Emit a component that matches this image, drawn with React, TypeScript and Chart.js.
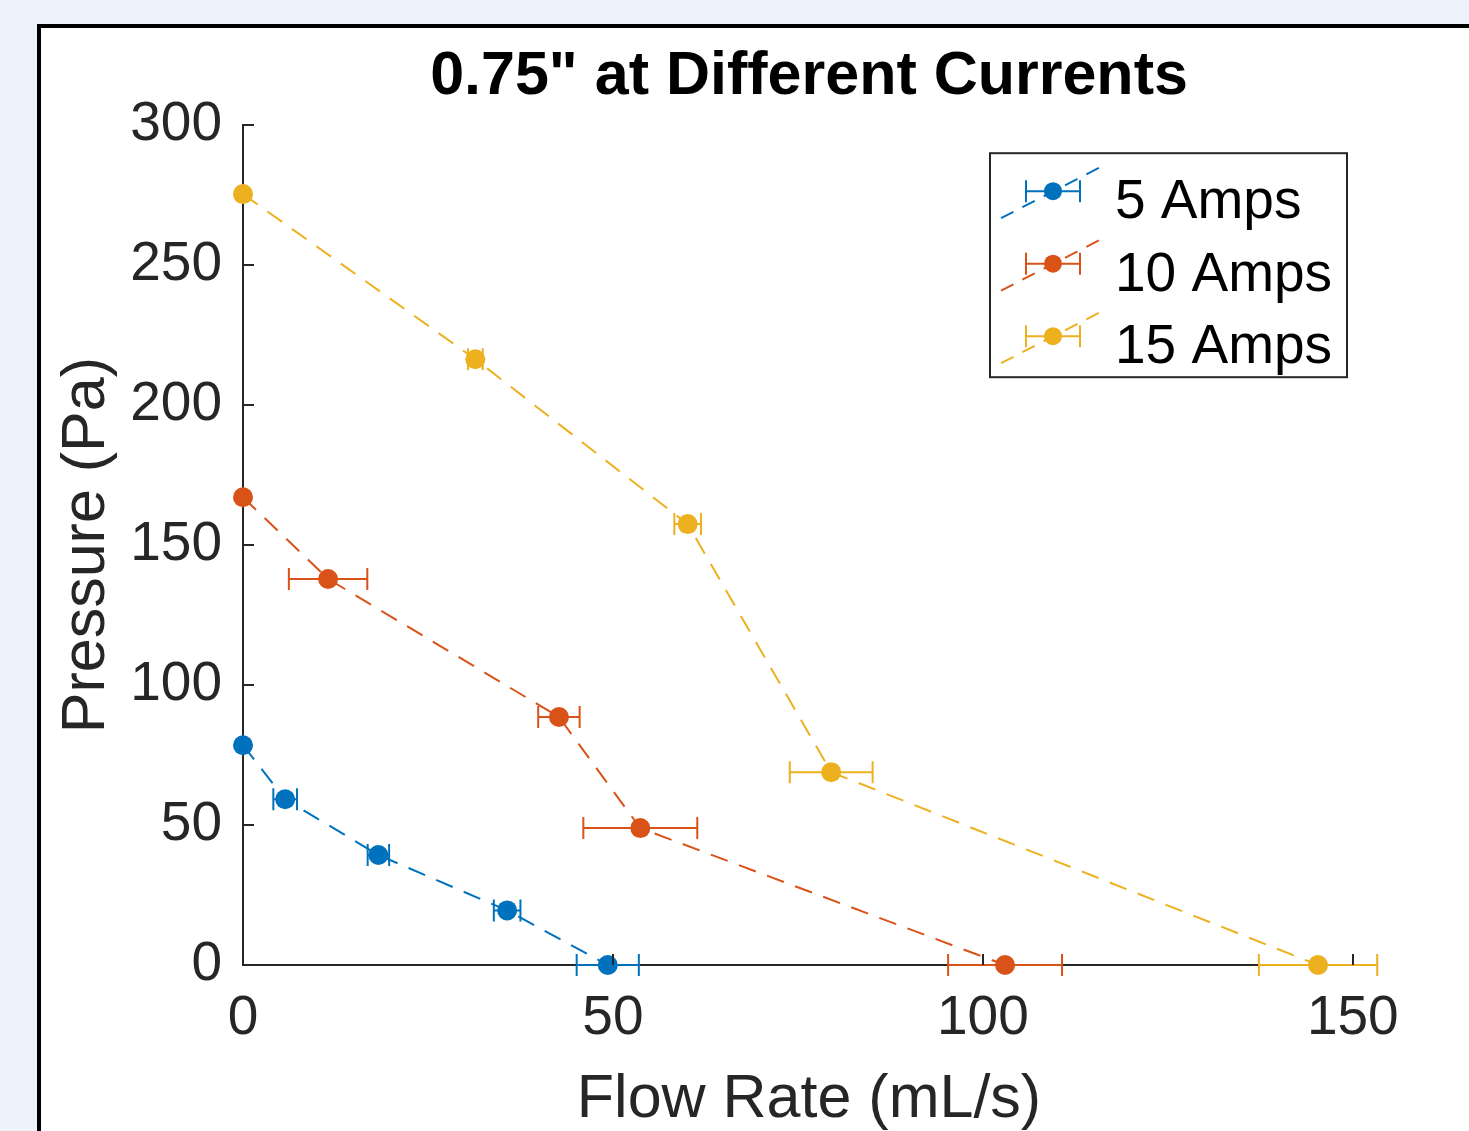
import React, { useEffect, useRef } from "react";
import { Chart, registerables } from "chart.js";

Chart.register(...registerables);

const FONT = '"Liberation Sans", Arial, Helvetica, sans-serif';

const chartTitle = '0.75" at Different Currents';
const xAxisLabel = "Flow Rate (mL/s)";
const yAxisLabel = "Pressure (Pa)";

const seriesLabels = ["5 Amps", "10 Amps", "15 Amps"];
const seriesColors = ["#0072BD", "#D95319", "#EDB120"];

const flow5 = [0, 5.7, 18.3, 35.7, 49.3];
const pressure5 = [78.5, 59.2, 39.3, 19.5, 0];
const flowErr5 = [0, 1.6, 1.45, 1.8, 4.2];

const flow10 = [0, 11.5, 42.7, 53.7, 103.0];
const pressure10 = [167.1, 137.9, 88.6, 48.9, 0];
const flowErr10 = [0, 5.3, 2.8, 7.7, 7.7];

const flow15 = [0, 31.4, 60.1, 79.5, 145.3];
const pressure15 = [275.4, 216.4, 157.5, 68.9, 0];
const flowErr15 = [0, 1.0, 1.8, 5.6, 8.0];

const xMin = 0;
const xMax = 153;
const xStep = 50;
const yMin = 0;
const yMax = 300;
const yStep = 50;

const flows = [flow5, flow10, flow15];
const pressures = [pressure5, pressure10, pressure15];
const flowErrs = [flowErr5, flowErr10, flowErr15];

const AXIS_COLOR = "#262626";

const errorBarPlugin = {
  id: "errorBars",
  beforeDatasetsDraw(chart: any) {
    const ctx = chart.ctx;
    const xs = chart.scales.x;
    const ys = chart.scales.y;
    ctx.save();
    chart.data.datasets.forEach((ds: any, di: number) => {
      const errs = flowErrs[di];
      ctx.strokeStyle = ds.borderColor;
      ctx.lineWidth = 2;
      ctx.setLineDash([]);
      ds.data.forEach((p: any, i: number) => {
        const e = errs[i];
        if (!e) return;
        const y = ys.getPixelForValue(p.y);
        const x1 = xs.getPixelForValue(p.x - e);
        const x2 = xs.getPixelForValue(p.x + e);
        const cap = 11;
        ctx.beginPath();
        ctx.moveTo(x1, y);
        ctx.lineTo(x2, y);
        ctx.moveTo(x1, y - cap);
        ctx.lineTo(x1, y + cap);
        ctx.moveTo(x2, y - cap);
        ctx.lineTo(x2, y + cap);
        ctx.stroke();
      });
    });
    ctx.restore();
  },
};

const inwardTicksPlugin = {
  id: "inwardTicks",
  afterDraw(chart: any) {
    const ctx = chart.ctx;
    const ca = chart.chartArea;
    const xs = chart.scales.x;
    const ys = chart.scales.y;
    const len = 11;
    ctx.save();
    ctx.strokeStyle = AXIS_COLOR;
    ctx.lineWidth = 2;
    ctx.beginPath();
    xs.ticks.forEach((t: any) => {
      const x = Math.round(xs.getPixelForValue(t.value));
      ctx.moveTo(x, ca.bottom);
      ctx.lineTo(x, ca.bottom - len);
    });
    ys.ticks.forEach((t: any) => {
      const y = Math.round(ys.getPixelForValue(t.value));
      ctx.moveTo(ca.left, y);
      ctx.lineTo(ca.left + len, y);
    });
    ctx.stroke();
    ctx.restore();
  },
};

const legendBoxPlugin = {
  id: "legendBox",
  afterDraw(chart: any) {
    const ctx = chart.ctx;
    const ca = chart.chartArea;
    const w = 357;
    const h = 224;
    const x0 = ca.right - 28 - w;
    const y0 = ca.top + 28;
    ctx.save();
    ctx.fillStyle = "#ffffff";
    ctx.fillRect(x0, y0, w, h);
    ctx.strokeStyle = AXIS_COLOR;
    ctx.lineWidth = 2;
    ctx.setLineDash([]);
    ctx.strokeRect(x0, y0, w, h);
    chart.data.datasets.forEach((ds: any, i: number) => {
      const rowY = y0 + 65 + i * 72.5;
      const mx = x0 + 63;
      const my = rowY - 27;
      // dashed diagonal line
      ctx.strokeStyle = ds.borderColor;
      ctx.lineWidth = 2;
      ctx.setLineDash([14, 10]);
      ctx.beginPath();
      ctx.moveTo(mx - 52, my + 27);
      ctx.lineTo(mx + 53, my - 27);
      ctx.stroke();
      // error bar
      ctx.setLineDash([]);
      ctx.beginPath();
      ctx.moveTo(mx - 27, my);
      ctx.lineTo(mx + 27, my);
      ctx.moveTo(mx - 27, my - 11);
      ctx.lineTo(mx - 27, my + 11);
      ctx.moveTo(mx + 27, my - 11);
      ctx.lineTo(mx + 27, my + 11);
      ctx.stroke();
      // marker
      ctx.fillStyle = ds.backgroundColor;
      ctx.beginPath();
      ctx.arc(mx, my, 9, 0, Math.PI * 2);
      ctx.fill();
      // text
      ctx.fillStyle = "#000000";
      ctx.font = `55px ${FONT}`;
      ctx.textAlign = "left";
      ctx.textBaseline = "alphabetic";
      ctx.fillText(ds.label, x0 + 125, rowY);
    });
    ctx.restore();
  },
};

export default function App() {
  const canvasRef = useRef<HTMLCanvasElement | null>(null);

  useEffect(() => {
    if (!canvasRef.current) return;
    Chart.defaults.font.family = FONT;
    const datasets = seriesLabels.map((label, di) => ({
      label,
      data: flows[di].map((x, i) => ({ x, y: pressures[di][i] })),
      borderColor: seriesColors[di],
      backgroundColor: seriesColors[di],
      pointBackgroundColor: seriesColors[di],
      pointBorderWidth: 0,
      pointRadius: 10,
      borderWidth: 2,
      borderDash: [18, 12],
      showLine: true,
      fill: false,
      tension: 0,
      clip: false as any,
      order: 3 - di,
    }));
    const chart = new Chart(canvasRef.current, {
      type: "scatter",
      data: { datasets },
      options: {
        responsive: false,
        animation: false,
        devicePixelRatio: 1,
        layout: { padding: { left: 0, top: 0, right: 94, bottom: 0 } },
        plugins: {
          legend: { display: false },
          tooltip: { enabled: false },
          title: {
            display: true,
            text: chartTitle,
            fullSize: false,
            color: "#000000",
            font: { family: FONT, size: 61, weight: "bold", lineHeight: 1.2 },
            padding: { top: 13, bottom: 11 },
          },
        },
        scales: {
          x: {
            type: "linear",
            min: xMin,
            max: xMax,
            afterFit: (s: any) => {
              s.height = 166;
            },
            ticks: {
              stepSize: xStep,
              includeBounds: false,
              color: AXIS_COLOR,
              font: { family: FONT, size: 55 },
              padding: 21,
              maxRotation: 0,
              autoSkip: false,
            },
            grid: { display: false, drawTicks: false },
            border: { display: true, color: AXIS_COLOR, width: 2 },
            title: {
              display: true,
              text: xAxisLabel,
              color: AXIS_COLOR,
              font: { family: FONT, size: 61, lineHeight: 1 },
              padding: 0,
            },
          },
          y: {
            type: "linear",
            min: yMin,
            max: yMax,
            afterFit: (s: any) => {
              s.width = 202;
            },
            ticks: {
              stepSize: yStep,
              includeBounds: false,
              color: AXIS_COLOR,
              font: { family: FONT, size: 55 },
              padding: 21,
              autoSkip: false,
            },
            grid: { display: false, drawTicks: false },
            border: { display: true, color: AXIS_COLOR, width: 2 },
            title: {
              display: true,
              text: yAxisLabel,
              color: AXIS_COLOR,
              font: { family: FONT, size: 61, lineHeight: 1.2 },
              padding: { top: 10, bottom: 0 },
            },
          },
        },
      } as any,
      plugins: [errorBarPlugin, inwardTicksPlugin, legendBoxPlugin],
    });
    return () => chart.destroy();
  }, []);

  return (
    <div
      style={{
        position: "fixed",
        left: 0,
        top: 0,
        width: 1469,
        height: 1131,
        background: "#eef3fb",
        overflow: "hidden",
      }}
    >
      <div
        style={{
          position: "absolute",
          left: 37,
          top: 24,
          width: 1469 - 37,
          height: 1131 - 24,
          background: "#ffffff",
          borderLeft: "4px solid #000",
          borderTop: "4px solid #000",
          boxSizing: "border-box",
        }}
      >
        <canvas
          ref={canvasRef}
          width={1428}
          height={1103}
          style={{ position: "absolute", left: 0, top: 0, width: 1428, height: 1103 }}
        />
      </div>
    </div>
  );
}
